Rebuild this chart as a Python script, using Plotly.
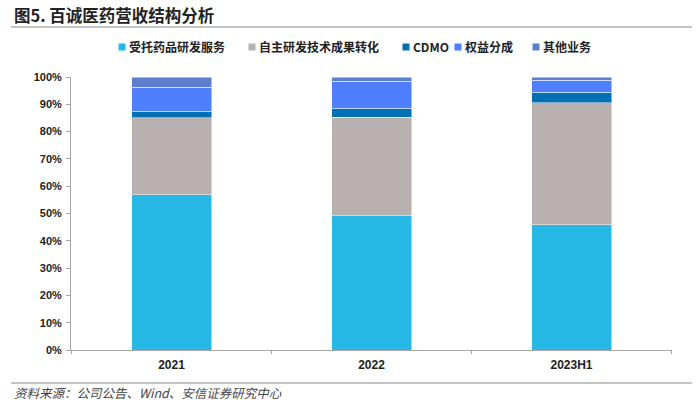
import plotly.graph_objects as go

categories = ["2021", "2022", "2023H1"]
series_names = ["受托药品研发服务", "自主研发技术成果转化", "CDMO", "权益分成", "其他业务"]
cro_service = [56.8, 49.1, 45.8]
self_rd = [28.3, 36.2, 44.8]
cdmo = [2.4, 3.3, 3.9]
royalty = [8.8, 9.9, 4.3]
other = [3.7, 1.5, 1.2]
tick_vals = [0, 10, 20, 30, 40, 50, 60, 70, 80, 90, 100]
tick_text = [f"{v}%" for v in tick_vals]

colors = ["#27B8E6", "#B9B1B0", "#0070B4", "#4F7FFF", "#5B7FCC"]
values = [cro_service, self_rd, cdmo, royalty, other]

W, H = 700, 407
PL, PR, PT, PB = 71, 672, 77, 350          # plot area in page pixels
PW, PH = PR - PL, PB - PT


def px(x):
    return (x - PL) / PW


def py(y):
    return (PB - y) / PH


fig = go.Figure()
for name, vals, col in zip(series_names, values, colors):
    fig.add_trace(go.Bar(
        x=categories, y=vals, name=name,
        marker=dict(color=col, line=dict(color="rgba(255,255,255,0.6)", width=0.8)),
        showlegend=False,
    ))

fig.update_layout(
    barmode="stack",
    bargap=0.6,
    width=W, height=H,
    margin=dict(l=PL, r=W - PR, t=PT, b=H - PB),
    plot_bgcolor="white", paper_bgcolor="white",
    font=dict(family="Liberation Sans, Arial, Noto Sans CJK SC", color="#222"),
    xaxis=dict(showline=True, linecolor="#A6A6A6", linewidth=1, ticks="",
               tickfont=dict(size=12, color="#222", weight="bold"), ticklabelstandoff=4),
    yaxis=dict(range=[0, 100], tickvals=tick_vals, ticktext=tick_text, showgrid=False,
               showline=True, linecolor="#A6A6A6", linewidth=1, ticks="outside", ticklen=4,
               tickcolor="#A6A6A6", tickfont=dict(size=11, color="#222", weight="bold"),
               ticklabelstandoff=2),
)

# custom legend (marker squares + labels)
legend_marker_x = [122, 252, 406, 458, 536]
LEG_Y = 47
for name, col, mx in zip(series_names, colors, legend_marker_x):
    fig.add_shape(type="rect", xref="paper", yref="paper",
                  x0=px(mx - 3.5), x1=px(mx + 3.5), y0=py(LEG_Y + 3.5), y1=py(LEG_Y - 3.5),
                  fillcolor=col, line=dict(width=0))
    fig.add_annotation(text=name, xref="paper", yref="paper", x=px(mx + 5), y=py(LEG_Y),
                       xanchor="left", yanchor="middle", showarrow=False,
                       font=dict(size=12, family="Noto Sans CJK SC", color="#222", weight="bold"))

# title and footer
fig.add_annotation(text="<b>图5. 百诚医药营收结构分析</b>", xref="paper", yref="paper",
                   x=px(12), y=py(15), xanchor="left", yanchor="middle",
                   showarrow=False, font=dict(size=16.5, family="Noto Sans CJK SC", color="#222"))
fig.add_annotation(text="<i>资料来源：公司公告、Wind、安信证券研究中心</i>", xref="paper", yref="paper",
                   x=px(12), y=py(393), xanchor="left", yanchor="middle",
                   showarrow=False, font=dict(size=12.5, family="Noto Sans CJK SC", color="#444"))
fig.add_shape(type="line", xref="paper", yref="paper", x0=px(11), x1=px(692),
              y0=py(27), y1=py(27), line=dict(color="#888", width=1.2))
fig.add_shape(type="line", xref="paper", yref="paper", x0=px(11), x1=px(692),
              y0=py(383), y1=py(383), line=dict(color="#888", width=1.2))
# category boundary ticks on x axis
for xv in [-0.5, 0.5, 1.5, 2.5]:
    fig.add_shape(type="line", xref="x", yref="paper", x0=xv, x1=xv, y0=0, y1=-4 / PH,
                  line=dict(color="#A6A6A6", width=1))

fig.write_html("out.html", config={"displayModeBar": False},
               post_script="document.body.style.margin='0px';")
